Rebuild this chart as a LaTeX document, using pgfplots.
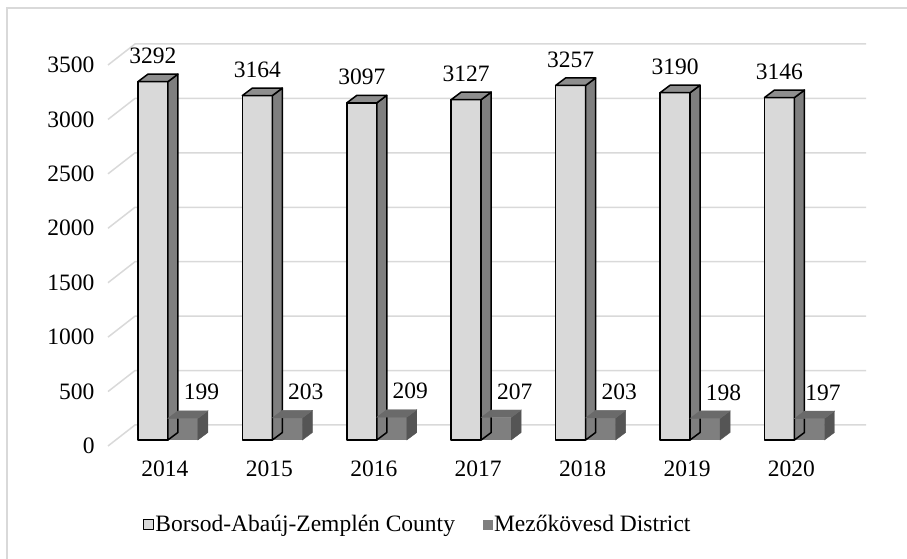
\documentclass[border=0pt]{standalone}
\usepackage{pgfplots}
\pgfplotsset{compat=1.18}
\usepackage{pgfplotstable}
\usepackage{fontspec}
\setmainfont{Liberation Serif}
\definecolor{lightc}{HTML}{D9D9D9}
\definecolor{lighttop}{HTML}{8E8E8E}
\definecolor{lightside}{HTML}{7F7F7F}
\definecolor{darkc}{HTML}{7F7F7F}
\definecolor{darktop}{HTML}{6A6A6A}
\definecolor{darkside}{HTML}{555555}
\definecolor{gridc}{HTML}{D9D9D9}
\definecolor{borderc}{HTML}{D9D9D9}
\pgfplotstableread{
x a b
0 3292 199
1 3164 203
2 3097 209
3 3127 207
4 3257 203
5 3190 198
6 3146 197
}\datatable
\newcommand\myfont{\fontsize{23.5}{28}\selectfont}
\begin{document}
\myfont
\begin{tikzpicture}
\useasboundingbox (0,0) rectangle (907pt,559pt);
\draw[borderc, line width=1.2pt] (7pt,0pt) -- (7pt,551pt) -- (907pt,551pt);
\begin{axis}[
  at={(115.7pt,119pt)}, anchor=south west,
  scale only axis, width=731pt, height=381pt,
  xmin=-0.5, xmax=6.5, ymin=0, ymax=3500,
  xtick={0,...,6},
  xticklabels={2014,2015,2016,2017,2018,2019,2020},
  ytick={0,500,...,3500},
  axis line style={draw=none},
  major tick length=0pt,
  clip=false,
  /pgf/number format/assume math mode=true,
  /pgf/number format/set thousands separator={},
  tick label style={font=\myfont, inner sep=0pt},
  xticklabel style={anchor=north, yshift=-21pt, xshift=-3pt},
  yticklabel style={anchor=east, xshift=-21pt, yshift=-6pt},
  legend style={at={(0.037,-0.223)}, anchor=west, draw=none, fill=none,
    inner sep=0pt, font=\myfont, legend columns=2,
    nodes={inner sep=1.5pt},
    /tikz/every even column/.append style={column sep=26pt}},
  legend cell align=left,
]
% gridlines (front diagonal + back wall)
\pgfplotsinvokeforeach{0,500,...,3500}{
  \draw[gridc, line width=1.5pt]
    ([shift={(-7.7pt,-6pt)}]axis cs:-0.5,#1) --
    ([shift={(19.3pt,15pt)}]axis cs:-0.5,#1) --
    ([shift={(19.3pt,15pt)}]axis cs:6.5,#1);
}
% light bars: front faces
\addplot[ybar, bar width=30pt, bar shift=-15pt, fill=lightc, draw=black,
  line width=1.5pt, line join=round,
  nodes near coords,
  nodes near coords style={font=\myfont, anchor=south, inner sep=0pt, yshift=17pt, xshift=-15pt, text=black},
  legend image code/.code={\draw[fill=lightc,draw=black,line width=1pt] (0pt,-5pt) rectangle (10pt,5pt);}
] table[x=x,y=a]{\datatable};
\addlegendentry{Borsod-Abaúj-Zemplén County}
% light bars: top and side faces
\addplot[forget plot, only marks, mark=*, mark size=0pt, scatter, point meta=y,
  visualization depends on={\thisrow{a} \as \rv},
  scatter/@pre marker code/.code={
    \filldraw[fill=lightside, draw=black, line width=1.5pt, line join=round]
      (0pt,0pt) -- (10pt,7.5pt) -- (10pt,{7.5pt-0.108857pt*\rv}) -- (0pt,{-0.108857pt*\rv}) -- cycle;
    \filldraw[fill=lighttop, draw=black, line width=1.5pt, line join=round]
      (-30pt,0pt) -- (0pt,0pt) -- (10pt,7.5pt) -- (-20pt,7.5pt) -- cycle;
  },
  scatter/@post marker code/.code={}
] table[x=x,y=a]{\datatable};
% dark bars: front faces
\addplot[ybar, bar width=30pt, bar shift=15pt, fill=darkc, draw=none,
  nodes near coords,
  visualization depends on={\thisrow{x} \as \rx},
  nodes near coords style={font=\myfont, anchor=south, inner sep=0pt, yshift=18pt, text=black,
    xshift={(\rx==6 ? 28.5 : 33.5)*1pt}},
  legend image code/.code={\fill[darkc] (0pt,-5pt) rectangle (10pt,5pt);}
] table[x=x,y=b]{\datatable};
\addlegendentry{Mezőkövesd District}
% dark bars: top and side faces
\addplot[forget plot, only marks, mark=*, mark size=0pt, scatter, point meta=y,
  visualization depends on={\thisrow{b} \as \rv},
  scatter/@pre marker code/.code={
    \fill[darkside]
      (30pt,0pt) -- (40pt,7.5pt) -- (40pt,{7.5pt-0.108857pt*\rv}) -- (30pt,{-0.108857pt*\rv}) -- cycle;
    \fill[darktop]
      (0pt,0pt) -- (30pt,0pt) -- (40pt,7.5pt) -- (10pt,7.5pt) -- cycle;
  },
  scatter/@post marker code/.code={}
] table[x=x,y=b]{\datatable};
\end{axis}
\end{tikzpicture}
\end{document}
